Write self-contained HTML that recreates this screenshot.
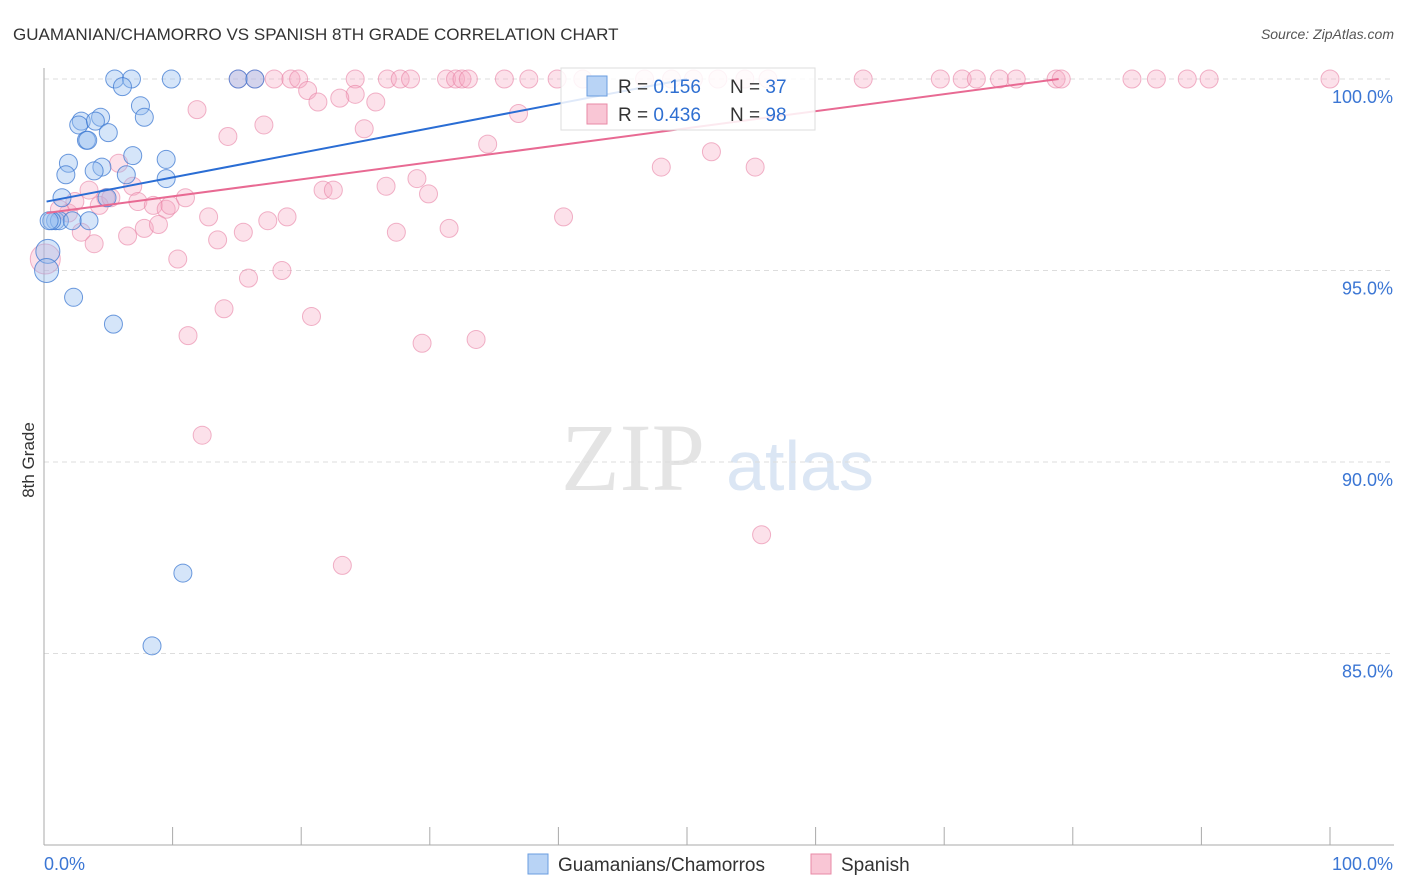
<!DOCTYPE html>
<html><head><meta charset="utf-8"><style>
body{margin:0;background:#fff;font-family:"Liberation Sans",sans-serif}
svg{display:block}
</style></head><body>
<svg width="1406" height="892" xmlns="http://www.w3.org/2000/svg">
<text x="13" y="40" font-size="17" fill="#333">GUAMANIAN/CHAMORRO VS SPANISH 8TH GRADE CORRELATION CHART</text>
<text x="1394" y="39" font-size="14" fill="#555" font-style="italic" text-anchor="end">Source: ZipAtlas.com</text>
<text x="633" y="490" font-size="96" fill="#e4e4e4" font-family="Liberation Serif" text-anchor="middle">ZIP</text>
<text x="800" y="490" font-size="70" fill="#dbe6f4" text-anchor="middle">atlas</text>
<g id="grid"></g>
<g id="axes"></g>
<g id="marks"></g>
<text x="34" y="460" font-size="17" fill="#333" text-anchor="middle" transform="rotate(-90 34 460)">8th Grade</text>
<g>
<rect x="561" y="68" width="254" height="62" fill="#fff" fill-opacity="0.85" stroke="#ddd"/>
<rect x="587" y="76" width="20" height="20" fill="#b8d3f5" stroke="#6a9ee0"/>
<rect x="587" y="104" width="20" height="20" fill="#f9c6d5" stroke="#e88aa6"/>
<text x="618" y="93" font-size="19" fill="#333">R = <tspan fill="#2f6fd1">0.156</tspan></text>
<text x="730" y="93" font-size="19" fill="#333">N = <tspan fill="#2f6fd1">37</tspan></text>
<text x="618" y="121" font-size="19" fill="#333">R = <tspan fill="#2f6fd1">0.436</tspan></text>
<text x="730" y="121" font-size="19" fill="#333">N = <tspan fill="#2f6fd1">98</tspan></text>
</g>
<g>
<rect x="528" y="854" width="20" height="20" fill="#b8d3f5" stroke="#6a9ee0"/>
<text x="558" y="871" font-size="19" fill="#333">Guamanians/Chamorros</text>
<rect x="811" y="854" width="20" height="20" fill="#f9c6d5" stroke="#e88aa6"/>
<text x="841" y="871" font-size="19" fill="#333">Spanish</text>
</g>
<script>
const yTicks=[100,95,90,85];
const yTickLabels=["100.0%","95.0%","90.0%","85.0%"];
const xLabels=["0.0%","100.0%"];
const blueX=[5.5,6.8,9.9,15.1,16.4,6.1,7.5,7.8,4.4,2.9,2.7,4.0,5.0,3.3,3.4,6.9,9.5,1.9,4.5,3.9,1.7,6.4,9.5,1.4,4.9,0.9,1.2,2.2,3.5,0.3,0.2,2.3,5.4,10.8,8.4,0.6,0.4];
const blueY=[100,100,100,100,100,99.8,99.3,99.0,99.0,98.9,98.8,98.9,98.6,98.4,98.4,98.0,97.9,97.8,97.7,97.6,97.5,97.5,97.4,96.9,96.9,96.3,96.3,96.3,96.3,95.5,95.0,94.3,93.6,87.1,85.2,96.3,96.3];
const pinkX=[15.1,16.4,17.9,19.2,19.8,24.2,26.7,27.7,28.5,31.3,32.0,32.5,33.0,35.8,37.7,39.9,41.9,46.7,48.8,50.5,52.4,54.5,56.3,63.7,69.7,71.4,72.5,74.3,75.6,78.7,79.1,84.6,86.5,88.9,90.6,100,
20.5,24.2,23.0,21.3,25.8,11.9,36.9,17.1,24.9,14.3,34.5,51.9,48.0,55.3,5.8,3.5,6.9,21.7,22.5,26.6,29.0,29.9,4.8,4.3,5.2,7.3,8.5,9.5,9.8,11.0,1.9,2.4,1.2,12.8,15.5,17.4,18.9,2.9,6.5,7.8,8.9,13.5,27.4,31.5,40.4,3.9,10.4,15.9,18.5,14.0,20.8,11.2,29.4,33.6,12.3,23.2,55.8,0.1];
const pinkY=[100,100,100,100,100,100,100,100,100,100,100,100,100,100,100,100,100,100,100,100,100,100,100,100,100,100,100,100,100,100,100,100,100,100,100,100,
99.7,99.6,99.5,99.4,99.4,99.2,99.1,98.8,98.7,98.5,98.3,98.1,97.7,97.7,97.8,97.1,97.2,97.1,97.1,97.2,97.4,97.0,96.9,96.7,96.9,96.8,96.7,96.6,96.7,96.9,96.5,96.8,96.6,96.4,96.0,96.3,96.4,96.0,95.9,96.1,96.2,95.8,96.0,96.1,96.4,95.7,95.3,94.8,95.0,94.0,93.8,93.3,93.1,93.2,90.7,87.3,88.1,95.3];
const blueLine=[[0.2,96.8],[50,100]];
const pinkLine=[[0.2,96.5],[78.9,100]];
const NS='http://www.w3.org/2000/svg';
const X0=44,X1=1330,Y0=845,Y1=79;
function sx(v){return X0+(X1-X0)*v/100;}
function sy(v){return Y0-(Y0-Y1)*(v-80)/20;}
function mk(t,a,p){const e=document.createElementNS(NS,t);for(const k in a)e.setAttribute(k,a[k]);p.appendChild(e);return e;}
const grid=document.getElementById('grid'),axes=document.getElementById('axes'),marks=document.getElementById('marks');
yTicks.forEach((t,i)=>{
 const l=mk('line',{x1:X0,x2:1394,y1:sy(t),y2:sy(t),stroke:'#ddd','stroke-dasharray':'5,4'},grid);
 
 
 const tx=mk('text',{x:1393,y:sy(t)+24,'font-size':18,fill:'#3b76d4','text-anchor':'end'},axes);
 tx.textContent=yTickLabels[i];
 
 
});
const ya=mk('line',{x1:X0,x2:X0,y1:68,y2:Y0,stroke:'#aaa'},axes);


const xa=mk('line',{x1:X0,x2:1394,y1:Y0,y2:Y0,stroke:'#aaa'},axes);


for(let i=0;i<=10;i++){
 const t=mk('line',{x1:sx(i*10),x2:sx(i*10),y1:Y0,y2:Y0-18,stroke:'#aaa'},axes);
 
 
}
[[0,'start',X0],[1,'end',1393]].forEach(([i,a,x])=>{
 const t=mk('text',{x:x,y:870,'font-size':18,fill:'#3b76d4','text-anchor':a},axes);
 t.textContent=xLabels[i];
 
 
});
pinkX.forEach((v,i)=>{
 const c=mk('circle',{cx:sx(v),cy:sy(pinkY[i]),r:i==pinkX.length-1?15:9,fill:'rgba(246,170,195,0.35)',stroke:'rgba(232,130,165,0.6)','stroke-width':1},marks);
 
 
});
blueX.forEach((v,i)=>{
 const c=mk('circle',{cx:sx(v),cy:sy(blueY[i]),r:(i==29||i==30)?12:9,fill:'rgba(150,190,240,0.4)',stroke:'rgba(60,120,210,0.75)','stroke-width':1},marks);
 
 
});
const bl=mk('line',{x1:sx(blueLine[0][0]),y1:sy(blueLine[0][1]),x2:sx(blueLine[1][0]),y2:sy(blueLine[1][1]),stroke:'#2a6dd4','stroke-width':2},marks);


const pl=mk('line',{x1:sx(pinkLine[0][0]),y1:sy(pinkLine[0][1]),x2:sx(pinkLine[1][0]),y2:sy(pinkLine[1][1]),stroke:'#e86a93','stroke-width':2},marks);


</script>
</svg>
</body></html>
